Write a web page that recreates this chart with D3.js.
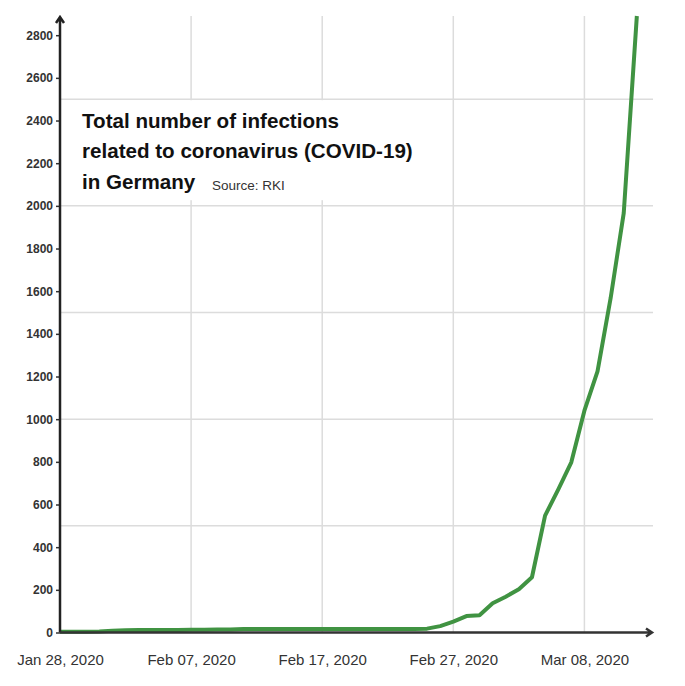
<!DOCTYPE html>
<html>
<head>
<meta charset="utf-8">
<script src="https://cdn.jsdelivr.net/npm/d3@7"></script>
<style>
  body { margin: 0; background: #fff; }
  svg { display: block; font-family: "Liberation Sans", Arial, sans-serif; }
</style>
</head>
<body>
<div id="chart"></div>
<script>
// daily totals, Jan 28 - Mar 12 2020
const startDate = "2020-01-28";
const janCases = [4, 4, 4, 5];
const febCases = [
  8, 10, 12, 12, 12, 12, 13, 13, 14, 14,
  16, 16, 16, 16, 16, 16, 16, 16, 16, 16, 16, 16, 16, 16,
  18, 30, 51, 77, 81
];
const marCases = [137, 168, 203, 259, 548, 670, 798, 1040, 1224, 1567, 1966, 2890];
const cases = janCases.concat(febCases, marCases);

const xTickOffsets = [0, 10, 20, 30, 40];
const yTickValues = d3.range(0, 2801, 200);
const yGridValues = [500, 1000, 1500, 2000, 2500];
const titleLines = [
  "Total number of infections",
  "related to coronavirus (COVID-19)",
  "in Germany"
];
const sourceText = "Source: RKI";

const width = 685, height = 686;
const plotLeft = 60, plotTop = 16, plotBottom = 632.5, gridRight = 653;

const parse = d3.timeParse("%Y-%m-%d");
const start = parse(startDate);
const data = cases.map((v, i) => ({ date: d3.timeDay.offset(start, i), value: v }));
const xTicks = xTickOffsets.map(d => d3.timeDay.offset(start, d));

const x = d3.scaleTime()
  .domain(d3.extent(data, d => d.date))
  .range([plotLeft, plotLeft + (data.length - 1) * 13.11]);

const y = d3.scaleLinear()
  .domain([0, d3.max(cases)])
  .range([plotBottom, plotTop]);

const svg = d3.select("#chart").append("svg")
  .attr("width", width)
  .attr("height", height);

// grid
svg.append("g")
  .selectAll("line")
  .data(yGridValues)
  .enter().append("line")
  .attr("x1", plotLeft).attr("x2", gridRight)
  .attr("y1", d => y(d)).attr("y2", d => y(d))
  .style("stroke", "#dcdcdc").style("stroke-width", 1.5);

svg.append("g")
  .selectAll("line")
  .data(xTicks.slice(1))
  .enter().append("line")
  .attr("x1", d => x(d)).attr("x2", d => x(d))
  .attr("y1", plotTop).attr("y2", plotBottom)
  .style("stroke", "#dcdcdc").style("stroke-width", 1.5);

// title box
svg.append("rect")
  .attr("x", plotLeft + 1).attr("y", y(2500) + 1)
  .attr("width", 360).attr("height", 100)
  .style("fill", "#fff");

svg.append("g")
  .selectAll("text")
  .data(titleLines)
  .enter().append("text")
  .attr("x", 82)
  .attr("y", (d, i) => 127.5 + i * 30.5)
  .style("font-size", "20.6px")
  .style("font-weight", "bold")
  .style("fill", "#111")
  .text(d => d);

svg.append("text")
  .attr("x", 212).attr("y", 190)
  .style("font-size", "13.5px")
  .style("fill", "#333")
  .text(sourceText);

// line
const line = d3.line()
  .x(d => x(d.date))
  .y(d => y(d.value));

svg.append("path")
  .datum(data)
  .attr("d", line)
  .style("fill", "none")
  .style("stroke", "#409342")
  .style("stroke-width", 4)
  .style("stroke-linejoin", "round");

// y axis
const yAxis = svg.append("g")
  .attr("transform", `translate(${plotLeft},0)`)
  .call(d3.axisLeft(y).tickValues(yTickValues).tickSize(4).tickPadding(3).tickFormat(d3.format("d")));
yAxis.select(".domain").remove();
yAxis.selectAll(".tick line").style("stroke", "#333").style("stroke-width", 1.5);
yAxis.selectAll(".tick text")
  .style("font-family", "'Liberation Sans', Arial, sans-serif")
  .style("font-size", "12px")
  .style("font-weight", "bold")
  .style("fill", "#333");

// x axis labels
const xAxis = svg.append("g")
  .attr("transform", `translate(0,${plotBottom})`)
  .call(d3.axisBottom(x).tickValues(xTicks).tickSize(0).tickPadding(22).tickFormat(d3.timeFormat("%b %d, %Y")));
xAxis.select(".domain").remove();
xAxis.selectAll(".tick text")
  .style("font-family", "'Liberation Sans', Arial, sans-serif")
  .style("font-size", "15px")
  .style("fill", "#333");

// axis lines with arrows
svg.append("path")
  .attr("d", `M${plotLeft},${plotBottom} V${plotTop + 1} M${plotLeft - 4},${plotTop + 7} L${plotLeft},${plotTop + 1} L${plotLeft + 4},${plotTop + 7}`)
  .style("fill", "none").style("stroke", "#222").style("stroke-width", 2.5);

svg.append("path")
  .attr("d", `M${plotLeft},${plotBottom} H652 M646,${plotBottom - 4} L652,${plotBottom} L646,${plotBottom + 4}`)
  .style("fill", "none").style("stroke", "#333").style("stroke-width", 2.5);
</script>
</body>
</html>
